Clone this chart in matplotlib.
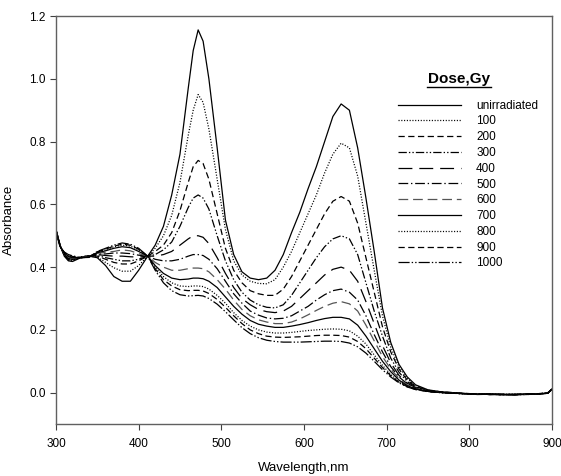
import matplotlib
matplotlib.use("Agg")
import matplotlib.pyplot as plt

plt.rcParams['font.family'] = ['Liberation Sans', 'DejaVu Sans']
plt.rcParams['lines.scale_dashes'] = False

# ---- Data ----
wavelength = [300, 305, 310, 315, 320, 330, 340, 350, 360, 370, 380, 390, 400,
              411, 420, 430, 440, 450, 460, 466, 472, 478, 485, 495,
              505, 515, 525, 535, 545, 555, 565, 575, 585, 595, 605, 615,
              625, 635, 645, 655, 665, 675, 685, 695, 705, 715, 725, 735,
              750, 765, 780, 795, 810, 825, 840, 855, 870, 885, 895, 900]

doses = ["unirradiated", "100", "200", "300", "400", "500",
         "600", "700", "800", "900", "1000"]

abs_0 = [0.52, 0.47, 0.435, 0.42, 0.418, 0.43, 0.435, 0.43, 0.405, 0.37, 0.355, 0.355, 0.39,
         0.435, 0.47, 0.53, 0.63, 0.76, 0.97, 1.09, 1.156, 1.12, 1.0, 0.78,
         0.55, 0.44, 0.385, 0.365, 0.36, 0.365, 0.39, 0.44, 0.51, 0.575, 0.65, 0.72,
         0.80, 0.88, 0.92, 0.90, 0.78, 0.62, 0.45, 0.27, 0.16, 0.09, 0.05, 0.025,
         0.009, 0.003, 0.0, -0.003, -0.004, -0.006, -0.005, -0.007, -0.005, -0.004, -0.001, 0.011]
abs_100 = [0.52, 0.47, 0.437, 0.422, 0.42, 0.43, 0.435, 0.432, 0.415, 0.398, 0.387, 0.387, 0.405,
           0.435, 0.46, 0.50, 0.565, 0.67, 0.82, 0.90, 0.95, 0.925, 0.84, 0.68,
           0.52, 0.42, 0.375, 0.355, 0.348, 0.347, 0.36, 0.40, 0.45, 0.51, 0.57, 0.63,
           0.70, 0.76, 0.795, 0.78, 0.69, 0.54, 0.39, 0.245, 0.145, 0.082, 0.045, 0.022,
           0.008, 0.002, -0.001, -0.004, -0.003, -0.005, -0.006, -0.005, -0.006, -0.003, 0.0, 0.010]
abs_200 = [0.52, 0.468, 0.438, 0.424, 0.422, 0.432, 0.436, 0.435, 0.425, 0.415, 0.41, 0.41, 0.42,
           0.435, 0.45, 0.47, 0.51, 0.58, 0.67, 0.72, 0.74, 0.73, 0.68, 0.57,
           0.46, 0.39, 0.35, 0.325, 0.315, 0.31, 0.31, 0.33, 0.37, 0.42, 0.47, 0.52,
           0.57, 0.61, 0.625, 0.61, 0.54, 0.43, 0.32, 0.21, 0.13, 0.075, 0.04, 0.02,
           0.007, 0.003, 0.0, -0.002, -0.005, -0.004, -0.007, -0.006, -0.004, -0.005, -0.002, 0.009]
abs_300 = [0.518, 0.468, 0.44, 0.426, 0.424, 0.433, 0.436, 0.437, 0.43, 0.425, 0.42, 0.42, 0.425,
           0.435, 0.44, 0.455, 0.48, 0.53, 0.59, 0.62, 0.63, 0.62, 0.585, 0.50,
           0.42, 0.36, 0.32, 0.295, 0.28, 0.272, 0.27, 0.28, 0.31, 0.35, 0.39, 0.43,
           0.465, 0.49, 0.50, 0.49, 0.44, 0.35, 0.26, 0.18, 0.11, 0.065, 0.035, 0.018,
           0.006, 0.001, -0.002, -0.003, -0.006, -0.005, -0.005, -0.007, -0.006, -0.003, -0.001, 0.012]
abs_400 = [0.518, 0.467, 0.44, 0.428, 0.425, 0.432, 0.436, 0.44, 0.437, 0.435, 0.435, 0.433, 0.432,
           0.435, 0.435, 0.44, 0.45, 0.47, 0.49, 0.50, 0.50, 0.495, 0.475, 0.43,
           0.38, 0.335, 0.30, 0.28, 0.265, 0.258, 0.255, 0.26, 0.275, 0.30, 0.325, 0.35,
           0.375, 0.393, 0.40, 0.39, 0.355, 0.29, 0.22, 0.15, 0.095, 0.055, 0.03, 0.016,
           0.005, 0.002, -0.001, -0.004, -0.004, -0.006, -0.006, -0.005, -0.005, -0.004, 0.0, 0.010]
abs_500 = [0.517, 0.467, 0.442, 0.43, 0.427, 0.432, 0.435, 0.442, 0.442, 0.445, 0.445, 0.443, 0.438,
           0.435, 0.425, 0.42, 0.42, 0.425, 0.435, 0.44, 0.44, 0.437, 0.425, 0.395,
           0.355, 0.315, 0.285, 0.26, 0.247, 0.238, 0.235, 0.237, 0.245, 0.26, 0.275, 0.295,
           0.312, 0.325, 0.33, 0.32, 0.295, 0.245, 0.185, 0.13, 0.083, 0.05, 0.028, 0.014,
           0.005, 0.0, -0.002, -0.003, -0.005, -0.005, -0.007, -0.006, -0.005, -0.004, -0.002, 0.011]
abs_600 = [0.516, 0.466, 0.443, 0.432, 0.428, 0.431, 0.434, 0.444, 0.447, 0.45, 0.455, 0.452, 0.443,
           0.435, 0.415, 0.40, 0.39, 0.39, 0.395, 0.397, 0.397, 0.395, 0.385, 0.36,
           0.33, 0.295, 0.265, 0.245, 0.232, 0.225, 0.22, 0.22, 0.225, 0.235, 0.248, 0.262,
           0.275, 0.285, 0.29, 0.283, 0.26, 0.215, 0.165, 0.115, 0.075, 0.045, 0.025, 0.013,
           0.004, 0.001, -0.001, -0.004, -0.004, -0.006, -0.005, -0.006, -0.006, -0.003, -0.001, 0.009]
abs_700 = [0.515, 0.466, 0.445, 0.434, 0.43, 0.43, 0.433, 0.446, 0.452, 0.46, 0.465, 0.462, 0.45,
           0.435, 0.405, 0.38, 0.365, 0.36, 0.362, 0.365, 0.365, 0.363, 0.355, 0.335,
           0.305, 0.275, 0.25, 0.23, 0.218, 0.212, 0.208, 0.208, 0.212, 0.217, 0.223, 0.23,
           0.236, 0.24, 0.24, 0.235, 0.215, 0.18, 0.14, 0.10, 0.067, 0.04, 0.022, 0.012,
           0.004, 0.001, -0.002, -0.003, -0.005, -0.004, -0.006, -0.007, -0.004, -0.005, -0.001, 0.010]
abs_800 = [0.515, 0.465, 0.446, 0.436, 0.432, 0.43, 0.432, 0.448, 0.455, 0.465, 0.47, 0.467, 0.455,
           0.435, 0.40, 0.37, 0.35, 0.34, 0.338, 0.34, 0.34, 0.338, 0.33, 0.31,
           0.285, 0.255, 0.23, 0.212, 0.20, 0.193, 0.19, 0.19, 0.192, 0.195, 0.198, 0.20,
           0.202, 0.203, 0.202, 0.197, 0.18, 0.155, 0.12, 0.087, 0.058, 0.035, 0.02, 0.011,
           0.004, 0.0, -0.001, -0.004, -0.005, -0.005, -0.006, -0.005, -0.006, -0.004, -0.002, 0.011]
abs_900 = [0.514, 0.465, 0.447, 0.438, 0.434, 0.43, 0.432, 0.449, 0.457, 0.467, 0.473, 0.47, 0.457,
           0.435, 0.395, 0.36, 0.34, 0.328, 0.325, 0.326, 0.326, 0.324, 0.316, 0.297,
           0.272, 0.245, 0.22, 0.20, 0.188, 0.18, 0.177, 0.176, 0.177, 0.178, 0.18, 0.182,
           0.183, 0.183, 0.182, 0.177, 0.163, 0.14, 0.11, 0.08, 0.054, 0.033, 0.019, 0.01,
           0.003, 0.001, -0.002, -0.003, -0.004, -0.006, -0.005, -0.006, -0.005, -0.003, -0.001, 0.010]
abs_1000 = [0.514, 0.464, 0.448, 0.44, 0.436, 0.43, 0.431, 0.45, 0.46, 0.47, 0.477, 0.473, 0.46,
            0.435, 0.39, 0.35, 0.325, 0.312, 0.308, 0.309, 0.31, 0.308, 0.30, 0.282,
            0.258, 0.232, 0.207, 0.188, 0.175, 0.167, 0.163, 0.161, 0.161, 0.161, 0.162, 0.163,
            0.164, 0.164, 0.163, 0.158, 0.146, 0.126, 0.10, 0.073, 0.05, 0.031, 0.018, 0.01,
            0.004, 0.0, -0.002, -0.004, -0.004, -0.005, -0.007, -0.006, -0.005, -0.004, -0.002, 0.012]

spectra = [abs_0, abs_100, abs_200, abs_300, abs_400, abs_500,
           abs_600, abs_700, abs_800, abs_900, abs_1000]

# ---- Styles (SigmaPlot-like line patterns) ----
line_styles = ['-', (0, (0.8, 1.2)), (0, (4.5, 2.5)), (0, (6, 1.5, 1, 1.5, 1, 1.5)),
               (0, (10, 5)), (0, (7, 2, 1, 2)), (0, (7, 3.5)), '-',
               (0, (0.8, 1.2)), (0, (4.5, 2.5)), (0, (8, 1.5, 1, 1.5, 1, 1.5))]
line_colors = ['black'] * 6 + ['#555555'] + ['black'] * 4

# ---- Figure ----
fig = plt.figure(figsize=(5.61, 4.76), dpi=100)
ax = fig.add_axes([0.0998, 0.1092, 0.884, 0.857])

for vals, lab, ls, col in zip(spectra, doses, line_styles, line_colors):
    ax.plot(wavelength, vals, linestyle=ls, color=col, linewidth=0.9, label=lab)

ax.set_xlim(300, 900)
ax.set_ylim(-0.1, 1.2)
ax.set_xticks([300, 400, 500, 600, 700, 800, 900])
ax.set_yticks([0.0, 0.2, 0.4, 0.6, 0.8, 1.0, 1.2])
ax.set_yticklabels([f"{v:.1f}" for v in [0.0, 0.2, 0.4, 0.6, 0.8, 1.0, 1.2]])
ax.tick_params(direction='out', length=4, width=0.8, labelsize=8.5, color='#404040')
ax.tick_params(axis='x', pad=6)
for sp in ax.spines.values():
    sp.set_color('#606060')
    sp.set_linewidth(1.0)

ax.set_xlabel("Wavelength,nm", fontsize=9.5, labelpad=9)
ax.set_ylabel("Absorbance", fontsize=9.5, labelpad=10)

# legend with underlined bold title
ax.text(0.8125, 0.846, "Dose,Gy", transform=ax.transAxes, ha='center', va='center',
        fontsize=11, fontweight='bold')
ax.plot([0.748, 0.877], [0.825, 0.825], transform=ax.transAxes, color='black',
        linewidth=1.0, clip_on=False)
ax.legend(loc='upper left', bbox_to_anchor=(0.69, 0.795), frameon=False, fontsize=8.5,
          handlelength=5.3, handletextpad=1.3, labelspacing=0.32, borderpad=0,
          borderaxespad=0)

fig.savefig("out.png", dpi=100)
